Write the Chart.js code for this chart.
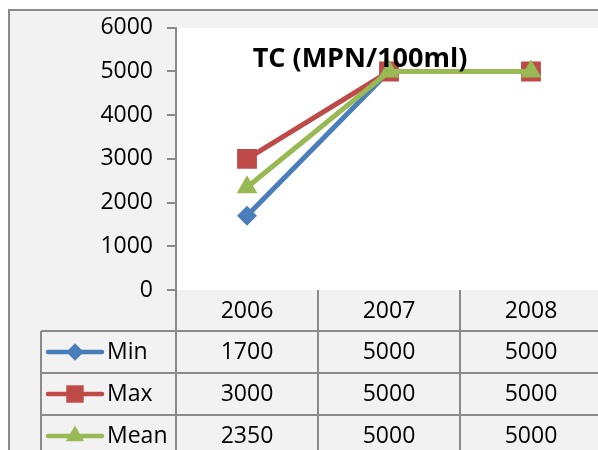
<!DOCTYPE html>
<html>
<head>
<meta charset="utf-8">
<script src="https://cdn.jsdelivr.net/npm/chart.js@4.4.1/dist/chart.umd.min.js"></script>
<style>
  html, body { margin: 0; padding: 0; background: #fff; overflow: hidden; }
  #wrap { width: 616px; height: 450px; position: relative; }
  #tcChart { position: absolute; left: 0; top: 0; }
</style>
</head>
<body>
<div id="wrap"><canvas id="tcChart" width="616" height="450"></canvas></div>
<script>
// Chart data
const years = ['2006', '2007', '2008'];
const minValues = [1700, 5000, 5000];
const maxValues = [3000, 5000, 5000];
const meanValues = [2350, 5000, 5000];
const seriesNames = ['Min', 'Max', 'Mean'];

const FONT = '"Open Sans", "DejaVu Sans", sans-serif';
const GRAY = '#8a8a8a';

// background, frame, title and the data table under the axis
const tablePlugin = {
    id: 'excelTable',
    beforeDraw(chart) {
        const c = chart.ctx;
        const a = chart.chartArea;
        c.save();
        c.fillStyle = '#ffffff';
        c.fillRect(0, 0, chart.width, chart.height);
        c.fillStyle = '#f2f2f2';
        c.fillRect(9, 10, chart.width, chart.height);
        c.strokeStyle = GRAY;
        c.lineWidth = 2;
        c.beginPath();
        c.moveTo(9, chart.height);
        c.lineTo(9, 10);
        c.lineTo(chart.width, 10);
        c.stroke();
        c.fillStyle = '#ffffff';
        c.fillRect(a.left, a.top, a.right - a.left, a.bottom - a.top);
        c.restore();
    },
    afterDraw(chart) {
        const c = chart.ctx;
        const a = chart.chartArea;
        const xs = chart.scales.x;
        const rowH = 42;
        const tableLeft = 41;
        const headTop = a.bottom;
        c.save();
        c.strokeStyle = GRAY;
        c.lineWidth = 2;
        // vertical lines at category boundaries
        const bounds = [];
        for (let i = 0; i <= years.length; i++) {
            bounds.push(xs.getPixelForValue(i - 0.5));
        }
        c.beginPath();
        bounds.forEach(b => {
            c.moveTo(b, headTop);
            c.lineTo(b, chart.height);
        });
        c.moveTo(tableLeft, headTop + rowH - 1);
        c.lineTo(tableLeft, chart.height);
        for (let r = 1; r <= seriesNames.length; r++) {
            const y = headTop + rowH * r - 1;
            c.moveTo(tableLeft, y);
            c.lineTo(chart.width, y);
        }
        c.stroke();

        // header and values
        c.fillStyle = '#000';
        c.font = '23px ' + FONT;
        c.textAlign = 'center';
        c.textBaseline = 'middle';
        years.forEach((yr, i) => {
            c.fillText(yr, xs.getPixelForValue(i), headTop + rowH / 2);
        });
        chart.data.datasets.forEach((ds, r) => {
            const cy = headTop + rowH * (r + 1) + rowH / 2 - 1;
            ds.data.forEach((v, i) => {
                c.fillText(String(v), xs.getPixelForValue(i), cy);
            });
            // legend key
            c.strokeStyle = ds.borderColor;
            c.lineWidth = 4.5;
            c.lineCap = 'round';
            c.beginPath();
            c.moveTo(48, cy);
            c.lineTo(102, cy);
            c.stroke();
            c.fillStyle = ds.backgroundColor;
            Chart.helpers.drawPoint(c, {
                pointStyle: ds.pointStyle,
                radius: ds.pointRadius * 0.88,
                borderWidth: 0
            }, 75, cy);
            c.fillStyle = '#000';
            c.textAlign = 'left';
            c.fillText(ds.label, 107, cy);
            c.textAlign = 'center';
        });

        // title inside the plot area
        c.font = 'bold 27px ' + FONT;
        c.fillText('TC (MPN/100ml)', 360, 59);
        c.restore();
    }
};

const data = {
    labels: years,
    datasets: [{
        label: seriesNames[0],
        data: minValues,
        borderColor: '#4a7ebb',
        backgroundColor: '#4a7ebb',
        pointStyle: 'rectRot',
        pointRadius: 10,
        order: 2
    }, {
        label: seriesNames[1],
        data: maxValues,
        borderColor: '#be4b48',
        backgroundColor: '#be4b48',
        pointStyle: 'rect',
        pointRadius: 14,
        order: 1
    }, {
        label: seriesNames[2],
        data: meanValues,
        borderColor: '#98b954',
        backgroundColor: '#98b954',
        pointStyle: 'triangle',
        pointRadius: 12,
        order: 0
    }]
};

const config = {
    type: 'line',
    data: data,
    options: {
        responsive: false,
        animation: false,
        elements: {
            line: { borderWidth: 5, tension: 0 },
            point: { borderWidth: 0 }
        },
        layout: { padding: { left: 0, top: 27, right: 0, bottom: 0 } },
        plugins: {
            legend: { display: false },
            title: { display: false },
            tooltip: { enabled: false }
        },
        scales: {
            x: {
                offset: true,
                grid: { display: false },
                border: { display: false },
                ticks: { display: false },
                afterFit: s => { s.height = 160; }
            },
            y: {
                min: 0,
                max: 6000,
                ticks: {
                    stepSize: 1000,
                    color: '#000',
                    padding: 14,
                    font: { family: FONT, size: 23 },
                    callback: v => String(v)
                },
                grid: { drawOnChartArea: false, tickLength: 9, color: GRAY, lineWidth: 2 },
                border: { color: GRAY, width: 2 },
                afterFit: s => { s.width = 176; }
            }
        }
    },
    plugins: [tablePlugin]
};

new Chart(document.getElementById('tcChart').getContext('2d'), config);
</script>
</body>
</html>
